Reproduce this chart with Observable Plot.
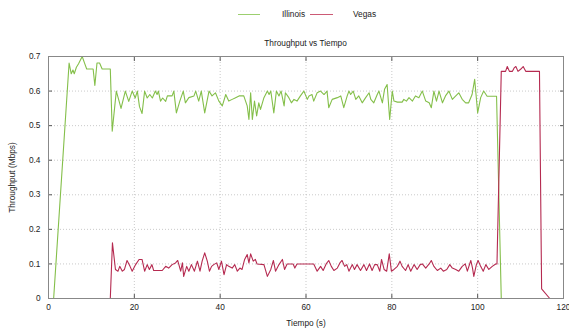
<!DOCTYPE html>
<html>
<head>
<meta charset="utf-8">
<script src="https://cdn.jsdelivr.net/npm/d3@7"></script>
<script src="https://cdn.jsdelivr.net/npm/@observablehq/plot@0.6"></script>
<style>
  html, body { margin: 0; padding: 0; background: #fff; }
  #wrap { position: relative; width: 569px; height: 329px; font-family: "Liberation Sans", Arial, sans-serif; color: #222; }
  #wrap svg { position: absolute; left: 0; top: 0; }
  .lg-line { position: absolute; height: 0; border-top: 1px solid; }
  .lg-text, .title { position: absolute; font-size: 8.3px; line-height: 10px; white-space: nowrap; }
</style>
</head>
<body>
<div id="wrap">
  <div class="lg-line" style="left:238px; top:14px; width:22px; border-color:#9ccf6f;"></div>
  <div class="lg-text" style="left:282px; top:9px;">Illinois</div>
  <div class="lg-line" style="left:310px; top:14px; width:23px; border-color:#cc5a75;"></div>
  <div class="lg-text" style="left:353px; top:9px;">Vegas</div>
  <div class="title" style="left:0; width:611px; text-align:center; top:38px;">Throughput vs Tiempo</div>
</div>
<script>
// Series: [time (s), throughput (Mbps)]
const illinois = [
  [0,0],[1.2,0],[4.8,0.681],[5.3,0.65],[5.7,0.661],[6.0,0.65],[6.5,0.669],[7.0,0.679],[7.85,0.7],[8.4,0.681],
  [8.9,0.664],[10.4,0.664],[10.8,0.616],[11.3,0.681],[11.9,0.681],[12.5,0.664],[14.4,0.664],[14.85,0.484],
  [15.8,0.6],[16.4,0.573],[16.9,0.55],[17.9,0.6],[18.7,0.57],[19.5,0.6],[20.2,0.58],[20.7,0.6],[21.2,0.555],
  [21.8,0.535],[22.4,0.6],[23.0,0.58],[23.6,0.59],[24.2,0.58],[24.9,0.6],[25.3,0.59],[25.6,0.6],[26.1,0.571],
  [26.6,0.58],[27.3,0.57],[27.7,0.586],[28.8,0.586],[29.2,0.6],[29.8,0.537],[30.6,0.571],[31.4,0.6],[31.9,0.566],
  [32.7,0.581],[33.9,0.586],[34.3,0.6],[35.0,0.571],[35.6,0.6],[36.4,0.537],[37.4,0.6],[38.1,0.586],[38.9,0.595],
  [39.7,0.571],[40.5,0.557],[41.3,0.59],[42.0,0.571],[42.8,0.576],[43.6,0.581],[44.4,0.586],[45.5,0.586],
  [46.3,0.557],[46.7,0.518],[47.1,0.595],[47.5,0.518],[48.0,0.571],[48.5,0.528],[49.0,0.566],[49.4,0.547],
  [50.2,0.581],[51.0,0.6],[51.4,0.59],[51.8,0.6],[52.5,0.537],[53.1,0.6],[53.7,0.586],[54.2,0.6],[54.9,0.557],
  [55.2,0.595],[56.0,0.581],[56.6,0.566],[57.2,0.576],[57.9,0.571],[58.7,0.586],[59.5,0.6],[60.3,0.576],
  [60.7,0.586],[61.4,0.59],[61.8,0.571],[62.6,0.595],[63.4,0.6],[64.2,0.59],[64.9,0.6],[65.3,0.552],[66.1,0.576],
  [67.3,0.581],[68.1,0.586],[68.8,0.552],[69.6,0.586],[70.0,0.6],[70.4,0.59],[71.0,0.6],[71.6,0.576],[72.3,0.586],
  [73.1,0.566],[73.9,0.581],[74.7,0.595],[75.1,0.576],[75.8,0.566],[76.6,0.59],[77.0,0.6],[77.8,0.566],
  [78.3,0.605],[78.9,0.619],[79.5,0.518],[80.1,0.6],[80.5,0.571],[81.3,0.568],[82.4,0.568],[82.8,0.576],
  [83.4,0.571],[84.0,0.581],[84.8,0.571],[85.5,0.586],[86.3,0.581],[87.1,0.6],[87.9,0.571],[88.7,0.566],
  [89.2,0.552],[89.8,0.6],[90.4,0.571],[91.0,0.6],[91.8,0.566],[92.5,0.586],[93.3,0.6],[94.1,0.576],[94.9,0.586],
  [95.6,0.595],[96.4,0.576],[97.2,0.566],[97.9,0.566],[98.7,0.59],[99.3,0.634],[100.0,0.537],[100.7,0.581],
  [101.4,0.6],[102.2,0.585],[104.4,0.585],[105.5,0],[116.8,0]
];
const vegas = [
  [0,0],[14.4,0],[14.9,0.161],[15.6,0.084],[16.2,0.079],[16.6,0.093],[17.2,0.079],[17.7,0.084],[18.3,0.11],
  [19.0,0.093],[19.5,0.079],[20.3,0.098],[21.1,0.113],[21.8,0.113],[22.4,0.079],[23.0,0.098],[23.5,0.084],
  [24.1,0.098],[24.5,0.081],[26.5,0.081],[27.3,0.093],[28.0,0.088],[28.8,0.098],[29.6,0.103],[30.1,0.11],
  [30.8,0.079],[31.2,0.103],[31.5,0.064],[32.2,0.093],[32.7,0.079],[33.3,0.098],[34.0,0.079],[34.7,0.108],
  [35.3,0.079],[35.8,0.108],[36.4,0.132],[37.0,0.108],[37.5,0.079],[38.0,0.093],[38.5,0.098],[39.2,0.103],
  [39.7,0.084],[40.3,0.108],[40.9,0.069],[41.5,0.098],[42.0,0.093],[42.8,0.088],[43.4,0.098],[44.0,0.079],
  [44.6,0.088],[45.1,0.084],[45.7,0.113],[46.3,0.127],[46.7,0.103],[47.1,0.129],[47.7,0.108],[48.2,0.113],
  [48.6,0.1],[50.2,0.098],[51.0,0.064],[51.8,0.084],[52.4,0.11],[52.9,0.079],[53.7,0.098],[54.5,0.113],
  [55.0,0.084],[55.6,0.1],[57.0,0.1],[57.4,0.088],[57.9,0.1],[61.8,0.1],[62.6,0.079],[63.4,0.093],[64.0,0.081],
  [64.7,0.1],[65.3,0.11],[65.9,0.093],[66.5,0.081],[67.3,0.088],[67.9,0.103],[68.4,0.11],[69.0,0.093],
  [69.5,0.098],[70.0,0.079],[70.8,0.098],[71.3,0.084],[71.9,0.098],[72.7,0.081],[73.5,0.098],[74.1,0.081],
  [74.8,0.1],[75.4,0.081],[76.0,0.098],[76.6,0.098],[77.2,0.079],[77.6,0.113],[78.2,0.084],[78.8,0.079],
  [79.4,0.129],[79.9,0.079],[80.5,0.084],[81.3,0.093],[81.9,0.108],[82.4,0.093],[83.2,0.081],[83.8,0.098],
  [84.4,0.079],[85.2,0.098],[85.9,0.084],[86.6,0.098],[87.1,0.1],[87.9,0.088],[88.7,0.1],[89.2,0.11],
  [89.8,0.093],[90.6,0.081],[91.4,0.088],[92.0,0.079],[92.8,0.084],[93.5,0.098],[94.1,0.088],[94.9,0.084],
  [95.6,0.079],[96.4,0.093],[97.1,0.1],[97.6,0.079],[98.4,0.11],[98.8,0.088],[99.1,0.064],[99.7,0.098],
  [100.1,0.11],[100.7,0.093],[101.3,0.079],[101.9,0.098],[102.6,0.084],[103.4,0.093],[104.2,0.1],[104.5,0.1],
  [105.5,0.657],[106.5,0.657],[106.9,0.671],[107.4,0.657],[108.1,0.657],[108.5,0.667],[108.9,0.671],
  [109.4,0.657],[110.0,0.663],[110.6,0.671],[111.2,0.657],[114.4,0.657],[114.9,0.028],[116.8,0]
];
const seriesNames = ["Illinois", "Vegas"];
const seriesColors = ["#84bf4a", "#b52a50"];
const xTicks = [0, 20, 40, 60, 80, 100, 120];
const yTicks = [0, 0.1, 0.2, 0.3, 0.4, 0.5, 0.6, 0.7];
const titleText = "Throughput vs Tiempo";
const xLabel = "Tiempo (s)";
const yLabel = "Throughput (Mbps)";

const toRows = (arr, name) => arr.map(([t, v]) => ({ t, v, name }));
const rows = [...toRows(illinois, seriesNames[0]), ...toRows(vegas, seriesNames[1])];

const grid = { stroke: "#bbb", strokeOpacity: 1, strokeDasharray: "1,2", strokeWidth: 0.8 };
const fmtY = d => d === 0 ? "0" : String(+d.toFixed(1));

const chart = Plot.plot({
  width: 569,
  height: 329,
  marginTop: 56,
  marginBottom: 31,
  marginLeft: 48,
  marginRight: 6,
  style: { fontFamily: "Liberation Sans, Arial, sans-serif", fontSize: "8.3px", color: "#222", background: "transparent" },
  x: { domain: [0, 120] },
  y: { domain: [0, 0.7] },
  color: { domain: seriesNames, range: seriesColors },
  marks: [
    Plot.gridY(yTicks, grid),
    Plot.gridX(xTicks, grid),
    Plot.axisY(yTicks, { anchor: "left", tickSize: 0, tickPadding: 8, tickFormat: fmtY, label: yLabel, labelAnchor: "center", labelOffset: 39, labelArrow: false }),
    Plot.axisY(yTicks, { anchor: "left", tickSize: -4, tickFormat: () => "", label: null, stroke: "#555" }),
    Plot.axisY(yTicks, { anchor: "right", tickSize: -4, tickFormat: () => "", label: null, stroke: "#555" }),
    Plot.axisX(xTicks, { anchor: "bottom", tickSize: 0, tickPadding: 6, label: xLabel, labelAnchor: "center", labelOffset: 27, labelArrow: false }),
    Plot.axisX(xTicks, { anchor: "bottom", tickSize: -4, tickFormat: () => "", label: null, stroke: "#555" }),
    Plot.axisX(xTicks, { anchor: "top", tickSize: -4, tickFormat: () => "", label: null, stroke: "#555" }),
    Plot.line(rows, { x: "t", y: "v", z: "name", stroke: "name", strokeWidth: 1.1 }),
    Plot.frame({ stroke: "#888", strokeWidth: 1 })
  ]
});
document.getElementById("wrap").prepend(chart);
</script>
</body>
</html>
